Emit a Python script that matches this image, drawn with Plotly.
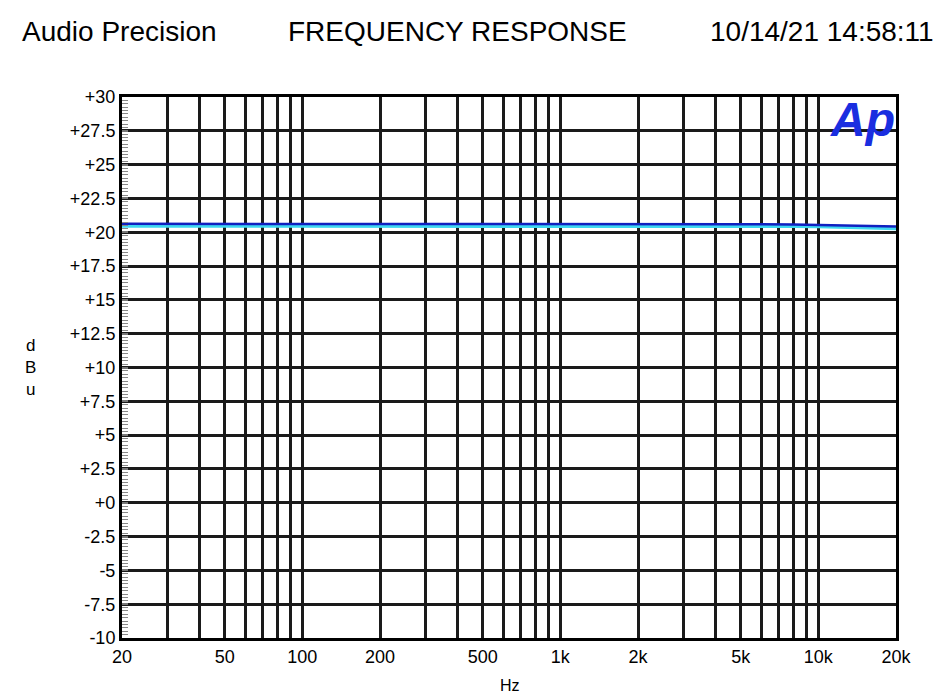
import plotly.graph_objects as go

freq_hz = [20, 30, 50, 100, 200, 500, 1000, 2000, 5000, 8000, 10000, 15000, 20000]
level_ch1 = [20.62, 20.62, 20.62, 20.62, 20.62, 20.63, 20.62, 20.62, 20.6, 20.57, 20.54, 20.48, 20.42]
level_ch2 = [20.45, 20.45, 20.45, 20.45, 20.46, 20.46, 20.45, 20.45, 20.44, 20.42, 20.4, 20.33, 20.25]

x_grid = [20, 30, 40, 50, 60, 70, 80, 90, 100, 200, 300, 400, 500, 600, 700, 800, 900,
          1000, 2000, 3000, 4000, 5000, 6000, 7000, 8000, 9000, 10000, 20000]
x_labels = {20: "20", 50: "50", 100: "100", 200: "200", 500: "500", 1000: "1k",
            2000: "2k", 5000: "5k", 10000: "10k", 20000: "20k"}
y_ticks = [30, 27.5, 25, 22.5, 20, 17.5, 15, 12.5, 10, 7.5, 5, 2.5, 0, -2.5, -5, -7.5, -10]
y_labels = ["+30", "+27.5", "+25", "+22.5", "+20", "+17.5", "+15", "+12.5", "+10", "+7.5",
            "+5", "+2.5", "+0", "-2.5", "-5", "-7.5", "-10"]

W, H = 950, 699
l, t = 122, 97
pw, ph = 896 - 122, 638 - 97
r, b = W - l - pw, H - t - ph

fig = go.Figure()
fig.add_trace(go.Scatter(x=freq_hz, y=level_ch2, mode="lines",
                         line=dict(color="#40d8f0", width=3), showlegend=False))
fig.add_trace(go.Scatter(x=freq_hz, y=level_ch1, mode="lines",
                         line=dict(color="#1020c0", width=2.5), showlegend=False))

font = "Liberation Sans, Arial, sans-serif"
fig.update_layout(
    width=W, height=H,
    margin=dict(l=l, r=r, t=t, b=b),
    paper_bgcolor="white", plot_bgcolor="white",
    font=dict(family=font, color="black", size=18),
    xaxis=dict(type="log", range=[1.30103, 4.30103],
               tickvals=x_grid, ticktext=[x_labels.get(v, "") for v in x_grid],
               showgrid=True, gridcolor="#1a1a1a", gridwidth=2.5,
               showline=True, linecolor="black", linewidth=3, mirror=True,
               ticks="", tickfont=dict(size=18), zeroline=False),
    yaxis=dict(range=[-10, 30], tickvals=y_ticks, ticktext=y_labels,
               showgrid=True, gridcolor="#1a1a1a", gridwidth=2.5,
               showline=True, linecolor="black", linewidth=3, mirror=True,
               ticks="inside", ticklen=6, tickcolor="#777", tickwidth=1.5,
               minor=dict(dtick=0.25, ticks="inside", ticklen=6, tickcolor="#888", tickwidth=1),
               tickfont=dict(size=18), zeroline=False),
)

texts = [
    ("Audio Precision", 20, 31, "left", 28, "black"),
    ("FREQUENCY RESPONSE", 457, 31, "center", 28, "black"),
    ("10/14/21 14:58:11", 936, 31, "right", 28, "black"),
    ("Hz", 510, 685, "center", 16, "black"),
    ("d<br>B<br>u", 30, 367, "center", 17, "black"),
    ("<b><i>Ap</i></b>", 862, 120, "center", 48, "#1a2ee0"),
]
for txt, px, py, xa, fs, col in texts:
    fig.add_annotation(text=txt, xref="paper", yref="paper",
                       x=(px - l) / pw, y=1 - (py - t) / ph,
                       xanchor=xa, yanchor="middle", showarrow=False,
                       font=dict(size=fs, color=col, family=font))

fig.write_html("out.html", config={"displayModeBar": False},
               post_script="document.body.style.margin='0';document.body.style.overflow='hidden';")
